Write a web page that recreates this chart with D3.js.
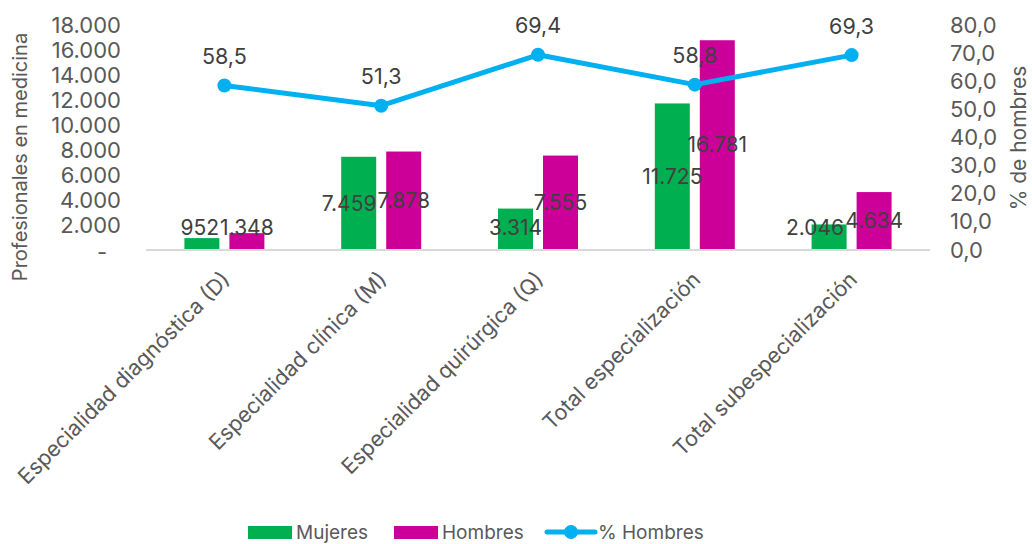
<!DOCTYPE html>
<html>
<head>
<meta charset="utf-8">
<script src="https://cdn.jsdelivr.net/npm/d3@7"></script>
<style>
  html, body { margin: 0; padding: 0; background: #fff; }
  svg { display: block; font-family: Inter, Lato, sans-serif; }
</style>
</head>
<body>
<svg id="chart" width="1032" height="544"></svg>
<script>
// Categories and series
const categories = [
  "Especialidad diagnóstica (D)",
  "Especialidad clínica (M)",
  "Especialidad quirúrgica (Q)",
  "Total especialización",
  "Total subespecialización"
];
const mujeres = [952, 7459, 3314, 11725, 2046];
const hombres = [1348, 7878, 7555, 16781, 4634];
const pctHombres = [58.5, 51.3, 69.4, 58.8, 69.3];

const leftTicks = [0, 2000, 4000, 6000, 8000, 10000, 12000, 14000, 16000, 18000];
const rightTicks = [0, 10, 20, 30, 40, 50, 60, 70, 80];

const seriesNames = ["Mujeres", "Hombres", "% Hombres"];
const colors = { mujeres: "#00B050", hombres: "#CC0099", pct: "#00B0F0" };

const FONT = "Inter, Lato, sans-serif";
const svg = d3.select("#chart");
const plot = { left: 146, right: 930, top: 25, bottom: 250 };

// Number formatting with "." thousands and "," decimals
const loc = d3.formatLocale({ decimal: ",", thousands: ".", grouping: [3], currency: ["", ""] });
const fmtInt = loc.format(",d");
const fmtPct = loc.format(",.1f");

const x = d3.scaleBand().domain(categories).range([plot.left, plot.right]).padding(0);
const barW = 35, barGap = 10;
const y = d3.scaleLinear().domain([0, 18000]).range([plot.bottom, plot.top]);
const y2 = d3.scaleLinear().domain([0, 80]).range([plot.bottom, plot.top]);
const cx = c => x(c) + x.bandwidth() / 2;

const tickColor = "#595959";
const labelColor = "#404040";

// Left axis
const leftAxis = d3.axisLeft(y).tickValues(leftTicks).tickSize(0).tickPadding(0)
  .tickFormat(d => d === 0 ? "-" : fmtInt(d));
svg.append("g").attr("transform", "translate(121,0)").call(leftAxis)
  .call(g => g.select(".domain").remove())
  .selectAll("text").attr("fill", tickColor).style("font-size", "22px")
  .attr("font-family", FONT)
  .attr("dx", d => d === 0 ? "-14" : "0")
  .attr("dy", d => d === 0 ? "0.45em" : "0.35em");

// Right axis
const rightAxis = d3.axisRight(y2).tickValues(rightTicks).tickSize(0).tickPadding(0)
  .tickFormat(d => fmtPct(d));
svg.append("g").attr("transform", "translate(950,0)").call(rightAxis)
  .call(g => g.select(".domain").remove())
  .selectAll("text").attr("fill", tickColor).style("font-size", "22px")
  .attr("font-family", FONT);

// Axis titles
svg.append("text")
  .attr("transform", `translate(27,157) rotate(-90)`)
  .attr("text-anchor", "middle").attr("fill", tickColor).style("font-size", "20px")
  .text("Profesionales en medicina");
svg.append("text")
  .attr("transform", `translate(1026,138) rotate(-90)`)
  .attr("text-anchor", "middle").attr("fill", tickColor).style("font-size", "21px")
  .text("% de hombres");

// Baseline
svg.append("line")
  .attr("x1", plot.left).attr("x2", plot.right)
  .attr("y1", y(0)).attr("y2", y(0))
  .attr("stroke", "#D9D9D9").attr("stroke-width", 2);

// Bars
const bars = categories.map((c, i) => [
  { key: "m", i, c, v: mujeres[i], color: colors.mujeres },
  { key: "h", i, c, v: hombres[i], color: colors.hombres }
]).flat();
const barX = d => cx(d.c) + (d.key === "m" ? -(barW + barGap / 2) : barGap / 2);

svg.append("g").selectAll("rect").data(bars).join("rect")
  .attr("x", barX)
  .attr("width", barW)
  .attr("y", d => y(d.v))
  .attr("height", d => y(0) - y(d.v) - 1)
  .attr("fill", d => d.color);

// Polyline for % Hombres
const line = d3.line().x((d, i) => cx(categories[i])).y(d => y2(d));
svg.append("path").datum(pctHombres)
  .attr("d", line).attr("fill", "none")
  .attr("stroke", colors.pct).attr("stroke-width", 5).attr("stroke-linejoin", "round");
svg.append("g").selectAll("circle").data(pctHombres).join("circle")
  .attr("cx", (d, i) => cx(categories[i])).attr("cy", d => y2(d))
  .attr("r", 7).attr("fill", colors.pct);

// Bar value labels (centered in bar, kept above the baseline)
const labelY = d => Math.min((y(d.v) + y(0)) / 2, y(0) - 22);
const barLabels = svg.append("g").selectAll("text").data(bars).join("text")
  .attr("x", d => barX(d) + barW / 2)
  .attr("y", labelY)
  .attr("dy", "0.35em")
  .attr("text-anchor", "middle").attr("fill", labelColor).style("font-size", "21px")
  .text(d => fmtInt(d.v));

// Push a Mujeres label left when it collides with its Hombres neighbour
const widths = new Map();
barLabels.each(function (d) { widths.set(d.key + d.i, this.getComputedTextLength()); });
barLabels.filter(d => d.key === "m").attr("x", function (d) {
  const h = bars.find(b => b.key === "h" && b.i === d.i);
  const mx = barX(d) + barW / 2, hx = barX(h) + barW / 2;
  const overlap = (mx + widths.get("m" + d.i) / 2) - (hx - widths.get("h" + d.i) / 2);
  const sameRow = Math.abs(labelY(d) - labelY(h)) < 16;
  return overlap > 0 && sameRow ? mx - overlap - 1 : mx;
});

// Line value labels
svg.append("g").selectAll("text").data(pctHombres).join("text")
  .attr("x", (d, i) => cx(categories[i]))
  .attr("y", d => y2(d) - 29)
  .attr("dy", "0.35em")
  .attr("text-anchor", "middle").attr("fill", labelColor).style("font-size", "21.5px")
  .text(d => fmtPct(d));

// Category labels, rotated
svg.append("g").selectAll("text").data(categories).join("text")
  .attr("transform", c => `translate(${cx(c) + 7},${y(0) + 31}) rotate(-45)`)
  .attr("text-anchor", "end").attr("fill", tickColor).style("font-size", "21.5px")
  .text(c => c);

// Legend
const legend = svg.append("g").attr("transform", "translate(0,532)");
const lg = [
  { x: 248, name: seriesNames[0], type: "rect", color: colors.mujeres },
  { x: 394, name: seriesNames[1], type: "rect", color: colors.hombres },
  { x: 547, name: seriesNames[2], type: "line", color: colors.pct }
];
lg.forEach(d => {
  if (d.type === "rect") {
    legend.append("rect").attr("x", d.x).attr("y", -6).attr("width", 44).attr("height", 13).attr("fill", d.color);
  } else {
    legend.append("line").attr("x1", d.x).attr("x2", d.x + 48).attr("y1", 0).attr("y2", 0)
      .attr("stroke", d.color).attr("stroke-width", 5).attr("stroke-linecap", "round");
    legend.append("circle").attr("cx", d.x + 24).attr("cy", 0).attr("r", 7).attr("fill", d.color);
  }
  legend.append("text").attr("x", d.x + (d.type === "rect" ? 48 : 51)).attr("y", 0).attr("dy", "0.35em")
    .attr("fill", tickColor).style("font-size", "19px").text(d.name);
});
</script>
</body>
</html>
